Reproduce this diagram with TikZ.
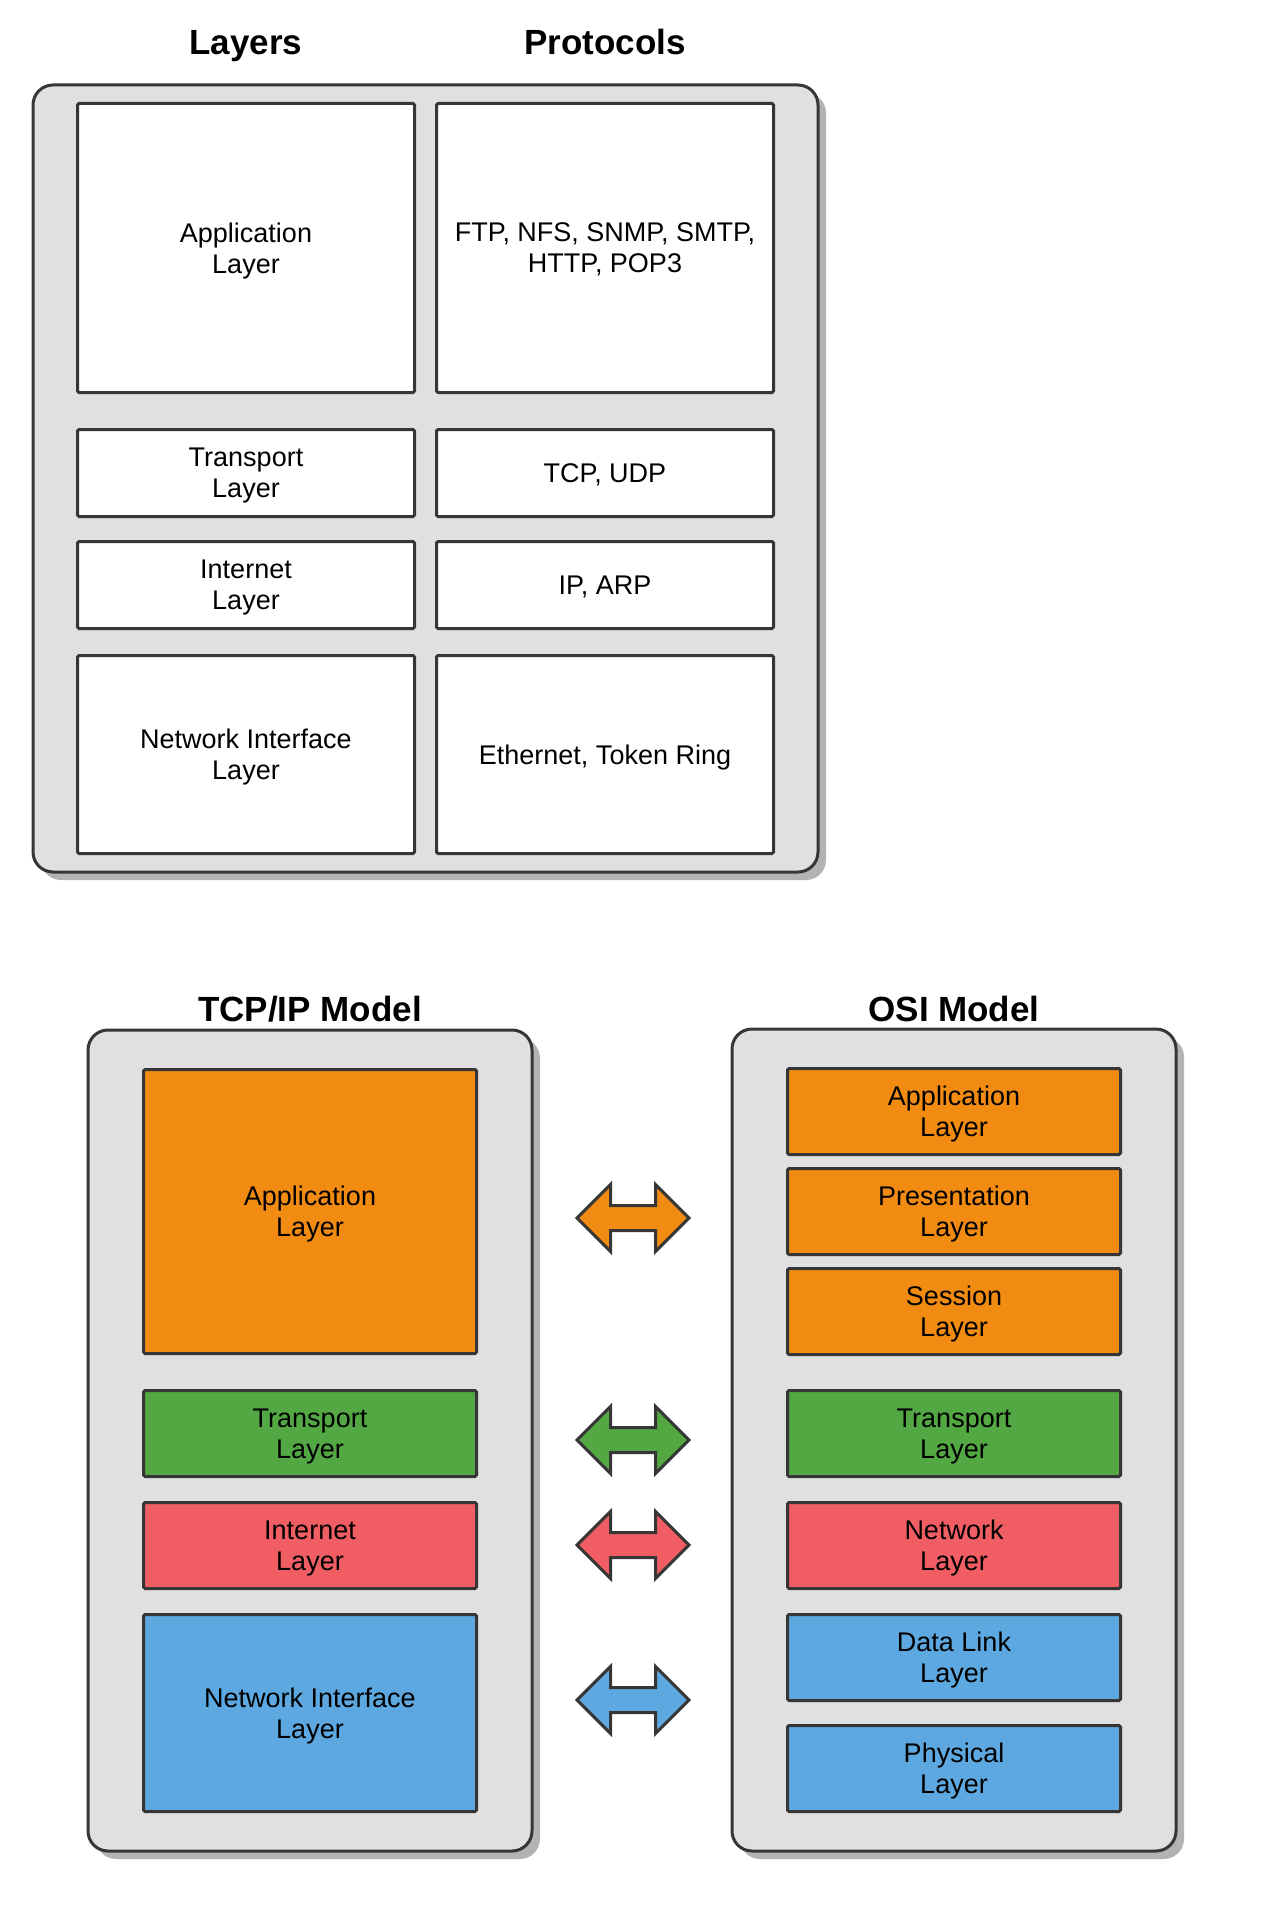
\documentclass[tikz,border=0pt]{standalone}
\usepackage{fontspec}
\setmainfont{Liberation Sans}
\usetikzlibrary{positioning, fit, backgrounds, shadows, shapes.arrows}
\definecolor{apporange}{RGB}{242,139,18}
\definecolor{transgreen}{RGB}{83,168,67}
\definecolor{netred}{RGB}{240,94,99}
\definecolor{linkblue}{RGB}{93,168,224}
\definecolor{panelgray}{RGB}{224,224,224}
\definecolor{shadowgray}{RGB}{179,179,179}
\definecolor{edgegray}{RGB}{54,54,54}

\begin{document}
\begin{tikzpicture}[
			x=1pt, y=-1pt,
			node distance=23pt,
			layer/.style={draw=edgegray, line width=3pt, rounded corners=1.5pt, align=center, inner sep=0pt, text depth=-3pt, font=\fontsize{27}{31}\selectfont, minimum width=333pt, minimum height=86pt},
			cell/.style={layer, fill=white, minimum width=337pt, minimum height=87pt},
			panel/.style={draw=edgegray, fill=panelgray, line width=3pt, rounded corners=20pt, drop shadow={shadow xshift=8pt, shadow yshift=-8pt, fill=shadowgray, opacity=1}},
			heading/.style={anchor=base, font=\fontsize{35}{40}\selectfont\bfseries},
			twoway/.style={double arrow, draw=edgegray, line width=3pt, double arrow tip angle=90, double arrow head extend=21pt, inner xsep=0pt, inner ysep=11pt, minimum height=112pt}
		]
		\useasboundingbox (0,0) rectangle (1267,1913);

		\node[heading] (laytitle) at (246,55) {Layers};
		\node[heading] (prototitle) at (605,55) {Protocols};
		\node[cell, anchor=north, minimum height=289pt] (lapp) at (246,102) {Application\\Layer};
		\node[cell, below=34pt of lapp] (ltrans) {Transport\\Layer};
		\node[cell, below=22pt of ltrans] (lnet) {Internet\\Layer};
		\node[cell, below=24pt of lnet, minimum height=198pt] (llink) {Network Interface\\Layer};
		\node[cell, right=19pt of lapp, minimum height=289pt] (papp) {FTP, NFS, SNMP, SMTP,\\HTTP, POP3};
		\node[cell, right=19pt of ltrans] (ptrans) {TCP, UDP};
		\node[cell, right=19pt of lnet] (pnet) {IP, ARP};
		\node[cell, right=19pt of llink, minimum height=198pt] (plink) {Ethernet, Token Ring};

		\node[heading] (tcptitle) at (310,1021) {TCP/IP Model};
		\node[layer, fill=apporange, anchor=north, minimum height=284pt] (tapp) at (310,1068) {Application\\Layer};
		\node[layer, fill=transgreen, below=34pt of tapp] (ttrans) {Transport\\Layer};
		\node[layer, fill=netred, below=of ttrans] (tnet) {Internet\\Layer};
		\node[layer, fill=linkblue, below=of tnet, minimum height=197pt] (tlink) {Network Interface\\Layer};

		\node[heading] (osititle) at (954,1021) {OSI Model};
		\node[layer, fill=apporange, anchor=north] (oapp) at (954,1067) {Application\\Layer};
		\node[layer, fill=apporange, below=11pt of oapp] (opres) {Presentation\\Layer};
		\node[layer, fill=apporange, below=11pt of opres] (osess) {Session\\Layer};
		\node[layer, fill=transgreen, below=33pt of osess] (otrans) {Transport\\Layer};
		\node[layer, fill=netred, below=of otrans] (onet) {Network\\Layer};
		\node[layer, fill=linkblue, below=of onet] (olink) {Data Link\\Layer};
		\node[layer, fill=linkblue, below=22pt of olink] (ophys) {Physical\\Layer};

		\node[twoway, fill=apporange] (appmap) at (633,1218) {};
		\node[twoway, fill=transgreen] (transmap) at (633,1440) {};
		\node[twoway, fill=netred] (netmap) at (633,1545) {};
		\node[twoway, fill=linkblue] (linkmap) at (633,1700) {};

		\begin{scope}[on background layer]
			\node[panel, fit=(lapp)(plink), inner xsep=43pt, inner ysep=17pt] (toppanel) {};
			\node[panel, fit=(tapp)(tlink), inner xsep=54pt, inner ysep=38pt] (tcppanel) {};
			\node[panel, fit=(oapp)(ophys), inner xsep=54pt, inner ysep=38pt] (osipanel) {};
		\end{scope}
	\end{tikzpicture}
\end{document}
